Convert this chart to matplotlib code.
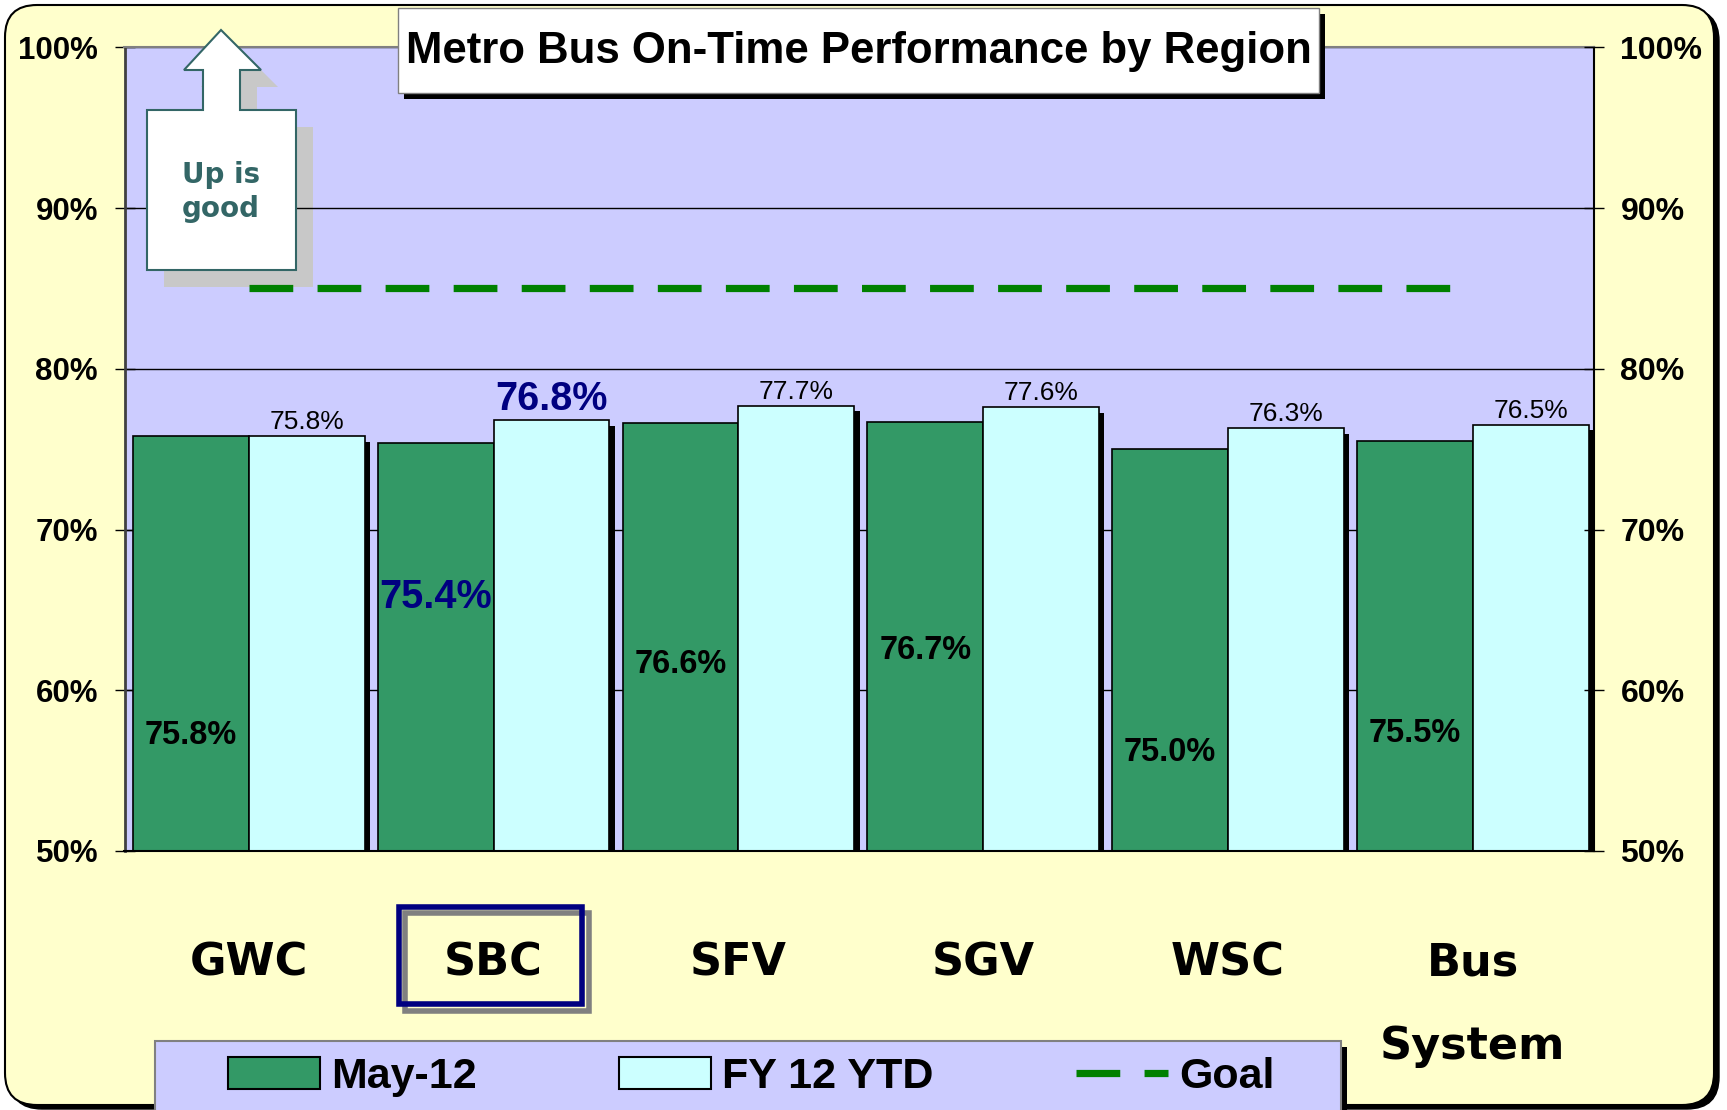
import numpy as np
import matplotlib
matplotlib.use('Agg')
import matplotlib.pyplot as plt
import matplotlib.patheffects as pe
from matplotlib.patches import Rectangle, Polygon, FancyBboxPatch, Patch
from matplotlib.lines import Line2D

# ---------------- data ----------------
regions = ['GWC', 'SBC', 'SFV', 'SGV', 'WSC', 'Bus\nSystem']
may12 = [75.8, 75.4, 76.6, 76.7, 75.0, 75.5]
fy12_ytd = [75.8, 76.8, 77.7, 77.6, 76.3, 76.5]
goal = [85, 85, 85, 85, 85, 85]
yticks = [50, 60, 70, 80, 90, 100]
ytick_labels = ['50%', '60%', '70%', '80%', '90%', '100%']
series_names = ['May-12', 'FY 12 YTD', 'Goal']
title = 'Metro Bus On-Time Performance by Region'
arrow_text = 'Up is\ngood'

# label placement (style, not data)
may_label_y = [57.2, 65.8, 61.6, 62.5, 56.1, 57.3]
highlight = 1

plt.rcParams['lines.scale_dashes'] = False

W, H = 1727, 1110
fig = plt.figure(figsize=(W / 100, H / 100), dpi=100)
fig.patch.set_facecolor('white')

GREEN = '#339966'
CYAN = '#CCFFFF'
LAV = '#CCCCFF'
YEL = '#FFFFCC'
NAVY = '#000080'
TEAL = '#336666'

# ---------------- background ----------------
bg = fig.add_axes([0, 0, 1, 1], zorder=0)
bg.set_xlim(0, W)
bg.set_ylim(H, 0)
bg.axis('off')
bg.add_patch(FancyBboxPatch((10, 9), 1709, 1100, boxstyle='round,pad=0,rounding_size=32',
                            fc='black', ec='black', lw=1))
bg.add_patch(FancyBboxPatch((5, 5), 1709, 1100, boxstyle='round,pad=0,rounding_size=32',
                            fc=YEL, ec='black', lw=1.5))

# ---------------- main axes ----------------
L, R, T, B = 124.5, 1594, 47.4, 851
ax = fig.add_axes([L / W, 1 - B / H, (R - L) / W, (B - T) / H], zorder=1)
ax.set_facecolor(LAV)
x = np.arange(len(regions))
bw = 0.473
shadow = [pe.SimplePatchShadow(offset=(3.8, -3.8), shadow_rgbFace='black', alpha=1.0), pe.Normal()]
b1 = ax.bar(x - bw / 2, may12, bw, color=GREEN, edgecolor='black', lw=1.2, zorder=2)
b2 = ax.bar(x + bw / 2, fy12_ytd, bw, color=CYAN, edgecolor='black', lw=1.2, zorder=2)
for p in list(b1) + list(b2):
    p.set_path_effects(shadow)
gl, = ax.plot(x, goal, color='#008000', lw=5.2, dashes=(31.5, 17.5), dash_capstyle='butt', zorder=3)

ax.set_xlim(-0.508, 5.495)
ax.set_ylim(50, 100)
ax.set_yticks(yticks)
ax.set_yticklabels(ytick_labels, fontfamily='Liberation Sans', fontweight='bold', fontsize=22.5)
ax.yaxis.grid(True, color='black', lw=1)
ax.set_axisbelow(True)
ax.tick_params(axis='y', direction='inout', length=14, width=1, pad=12)
ax.set_xticks(x)
ax.set_xticklabels(regions, fontfamily='DejaVu Sans', fontweight='bold', fontsize=32, linespacing=2.2)
ax.tick_params(axis='x', length=0, pad=65)
ax.spines['left'].set_color('#404040'); ax.spines['left'].set_linewidth(2)
ax.spines['top'].set_color('#808080'); ax.spines['top'].set_linewidth(1.5)
ax.spines['bottom'].set_color('black'); ax.spines['bottom'].set_linewidth(1.5)
ax.spines['right'].set_color('black'); ax.spines['right'].set_linewidth(1.5)

ax2 = ax.twinx()
ax2.set_ylim(50, 100)
ax2.set_yticks(yticks)
ax2.set_yticklabels(ytick_labels, fontfamily='Liberation Sans', fontweight='bold', fontsize=23)
ax2.tick_params(axis='y', direction='inout', length=14, width=1, pad=12)
for s in ax2.spines.values():
    s.set_visible(False)

# value labels
for i in range(len(regions)):
    if i == highlight:
        kw_top = dict(fontsize=28.5, fontweight='bold', color=NAVY)
        kw_in = dict(fontsize=28.5, fontweight='bold', color=NAVY)
    else:
        kw_top = dict(fontsize=19, color='black')
        kw_in = dict(fontsize=23.5, fontweight='bold', color='black')
    ax.annotate(f'{fy12_ytd[i]:.1f}%', (x[i] + bw / 2, fy12_ytd[i]), xytext=(0, 1.5),
                textcoords='offset points', ha='center', va='bottom',
                fontfamily='Liberation Sans', zorder=6, **kw_top)
    ax.text(x[i] - bw / 2, may_label_y[i], f'{may12[i]:.1f}%', ha='center', va='center',
            fontfamily='Liberation Sans', zorder=6, **kw_in)

# ---------------- foreground overlay ----------------
fg = fig.add_axes([0, 0, 1, 1], zorder=5)
fg.set_xlim(0, W)
fg.set_ylim(H, 0)
fg.axis('off')
fg.patch.set_alpha(0)

# up arrow
pts = np.array([(221, 30), (261, 70), (240, 70), (240, 110), (296, 110), (296, 270),
                (147, 270), (147, 110), (203, 110), (203, 70), (184, 70)], dtype=float)
ax.add_patch(Polygon(pts + np.array([17, 17]), closed=True, fc='#C8C8C8', ec='none',
                     transform=fg.transData, clip_on=False, zorder=0.3))
fg.add_patch(Polygon(pts, closed=True, fc='white', ec=TEAL, lw=1.5))
fg.text(221, 192, arrow_text, ha='center', va='center', color=TEAL, fontsize=20,
        fontweight='bold', fontfamily='DejaVu Sans', linespacing=1.3)

# title box
fg.add_patch(Rectangle((404, 14), 921, 85, fc='black', ec='none'))
fg.add_patch(Rectangle((398, 8), 921, 85, fc='white', ec='#808080', lw=1))
fg.text(858.5, 52, title, ha='center', va='center', fontsize=31.5, fontweight='bold',
        fontfamily='Liberation Sans')

# SBC highlight box
fg.add_patch(Rectangle((405, 913), 184, 98, fill=False, ec='#808080', lw=4))
fg.add_patch(Rectangle((399, 907), 183, 97, fill=False, ec=NAVY, lw=4))

# legend frame
fg.add_patch(Rectangle((161, 1047), 1186, 120, fc='black', ec='none'))
fg.add_patch(Rectangle((155, 1041), 1186, 120, fc=LAV, ec='#808080', lw=1.5))

handles = [Patch(fc=GREEN, ec='black', lw=1.5), Patch(fc=CYAN, ec='black', lw=1.5),
           Line2D([], [], color='#008000', lw=5.2, dashes=(31.5, 17.5), dash_capstyle='butt')]
leg = fig.legend(handles, series_names, loc='center left', bbox_to_anchor=(228 / W, 1 - 1077 / H),
                 ncol=3, frameon=False, borderpad=0, borderaxespad=0,
                 prop={'family': 'Liberation Sans', 'weight': 'bold', 'size': 31},
                 handlelength=2.14, handleheight=0.74, handletextpad=0.26, columnspacing=3.3)
leg.set_zorder(10)

fig.savefig('out.png', dpi=100, facecolor='white')
